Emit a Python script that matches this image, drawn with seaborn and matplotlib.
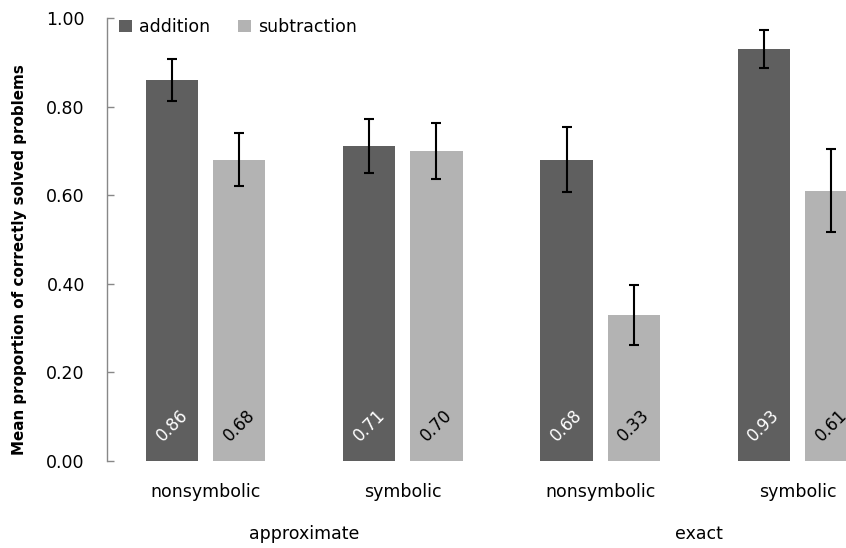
import matplotlib
matplotlib.use("Agg")
import matplotlib.pyplot as plt
import matplotlib.transforms as mtransforms
from matplotlib.patches import Patch
import seaborn as sns
import pandas as pd

# Task conditions (outer grouping) and number formats (tick labels)
conditions = ["approximate", "approximate", "exact", "exact"]
formats = ["nonsymbolic", "symbolic", "nonsymbolic", "symbolic"]
operations = ["addition", "subtraction"]

# Mean proportion correct and error bar half-widths per operation
addition_mean = [0.86, 0.71, 0.68, 0.93]
subtraction_mean = [0.68, 0.70, 0.33, 0.61]
addition_err = [0.048, 0.061, 0.073, 0.043]
subtraction_err = [0.060, 0.063, 0.068, 0.094]

y_ticks = [0.0, 0.2, 0.4, 0.6, 0.8, 1.0]

colors = {"addition": "#5f5f5f", "subtraction": "#b3b3b3"}
label_colors = {"addition": "white", "subtraction": "black"}

keys = [f"{c} {f}" for c, f in zip(conditions, formats)]
df = pd.DataFrame({
    "cell": keys * 2,
    "operation": ["addition"] * 4 + ["subtraction"] * 4,
    "mean": addition_mean + subtraction_mean,
    "err": addition_err + subtraction_err,
})

sns.set_style("white")
plt.rcParams["font.family"] = ["DejaVu Sans"]
plt.rcParams["text.color"] = "black"
plt.rcParams["axes.labelcolor"] = "black"
plt.rcParams["xtick.color"] = "black"
plt.rcParams["ytick.color"] = "black"

fig = plt.figure(figsize=(8.46, 5.48), dpi=100)
ax = fig.add_axes([107 / 846, 1 - 461 / 548, 789 / 846, 443 / 548])

sns.barplot(data=df, x="cell", y="mean", hue="operation", order=keys,
            hue_order=operations, palette=colors, width=0.68, gap=0.22,
            errorbar=None, linewidth=0, legend=False, ax=ax)

# Error bars and rotated value labels on each bar
for op, container in zip(operations, ax.containers):
    sub = df[df["operation"] == op].set_index("cell").loc[keys]
    for bar, m, e in zip(container, sub["mean"], sub["err"]):
        cx = bar.get_x() + bar.get_width() / 2
        ax.errorbar(cx, m, yerr=e, color="black", elinewidth=1.5,
                    capsize=3.6, capthick=1.5, zorder=3)
        ax.text(cx, 0.081, f"{m:.2f}", rotation=45, ha="center", va="center",
                color=label_colors[op], fontsize=12, zorder=4)

ax.set_xlim(-0.5, 3.5)
ax.set_ylim(0, 1.0)
ax.set_yticks(y_ticks)
ax.set_yticklabels([f"{t:.2f}" for t in y_ticks])
ax.set_xticks(range(4))
ax.set_xticklabels(formats)
ax.tick_params(axis="y", left=True, direction="in", length=5, width=1,
               color="#888888", labelcolor="black", labelsize=12.5, pad=16)
ax.tick_params(axis="x", bottom=False, length=0, labelcolor="black",
               labelsize=12.5, pad=16)
ax.set_xlabel("")
ax.set_ylabel("Mean proportion of correctly solved problems",
              fontsize=10.9, fontweight="bold", color="black")
ax.yaxis.set_label_coords(-0.102, 0.454)

for side in ["top", "right", "bottom"]:
    ax.spines[side].set_visible(False)
ax.spines["left"].set_color("#888888")
ax.spines["left"].set_linewidth(1)

# Outer condition labels centred under each pair of formats
trans = mtransforms.blended_transform_factory(ax.transData, ax.transAxes)
for xpos, name in [(0.5, "approximate"), (2.5, "exact")]:
    ax.text(xpos, -73 / 443, name, transform=trans, ha="center", va="center",
            fontsize=12.5, color="black")

handles = [Patch(facecolor=colors[o], edgecolor="none") for o in operations]
ax.legend(handles, operations, loc="upper left", bbox_to_anchor=(0.015, 1.0),
          ncol=2, frameon=False, fontsize=12.5, handlelength=0.75,
          handleheight=0.75, handletextpad=0.4, columnspacing=1.6,
          borderpad=0, borderaxespad=0, labelcolor="black")

fig.savefig("out.png", dpi=100)
